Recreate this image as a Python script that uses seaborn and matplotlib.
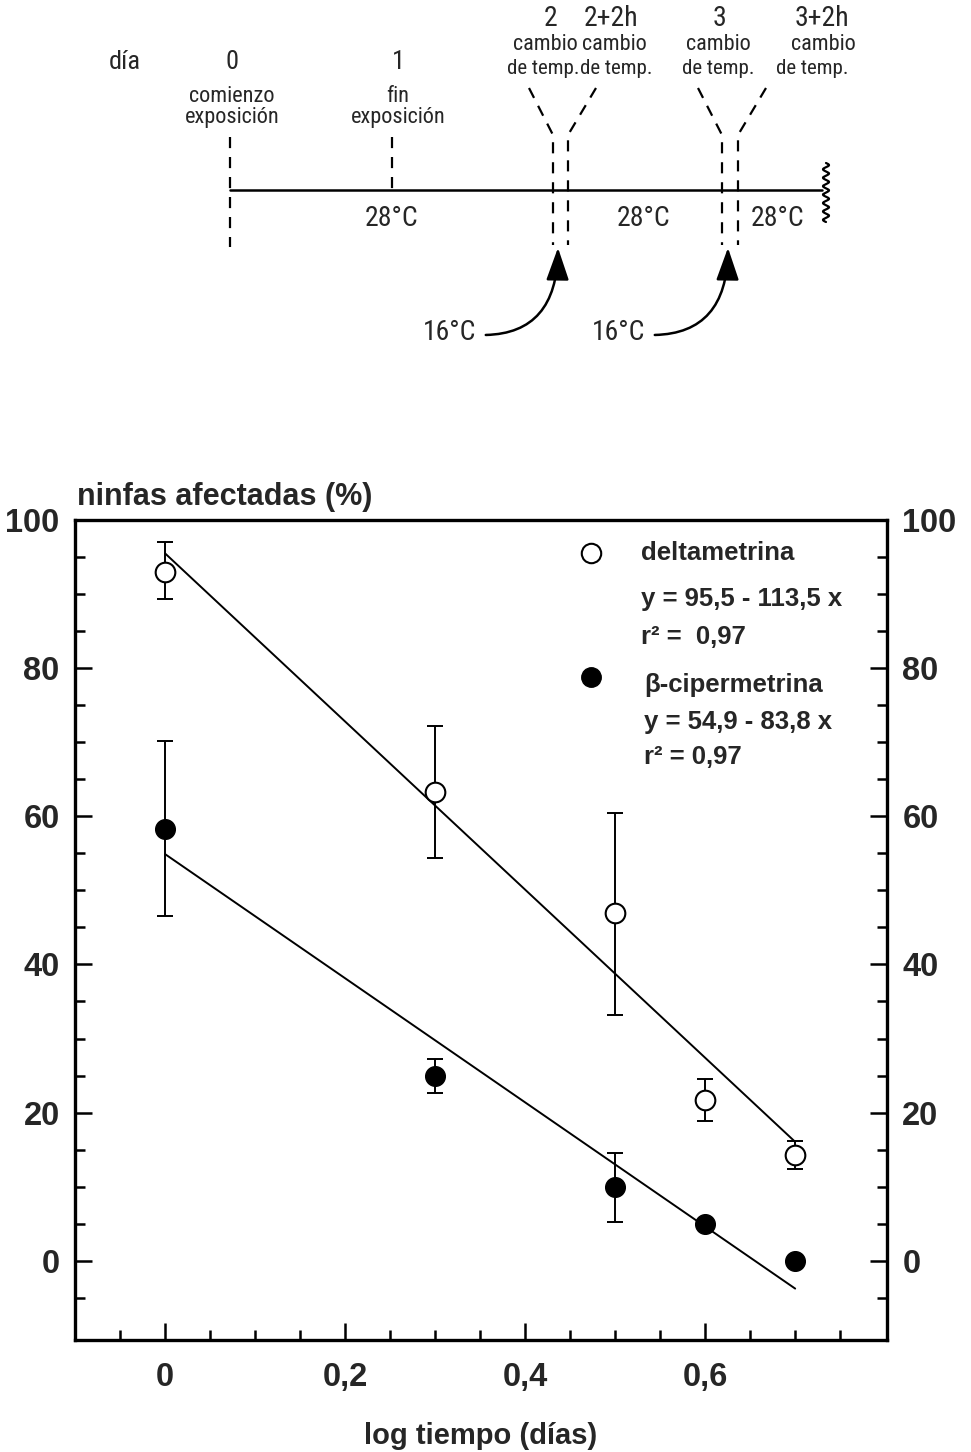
import numpy as np
import pandas as pd
import matplotlib
matplotlib.use("Agg")
import matplotlib.pyplot as plt
import seaborn as sns
from matplotlib.patches import FancyArrowPatch
from matplotlib import font_manager

sns.set_theme(style="white")
plt.rcParams['font.family'] = ['Liberation Sans', 'DejaVu Sans']

# ---------------- data ----------------
log_time = [0.0, 0.3, 0.5, 0.6, 0.7]

delta_mean = [93.0, 63.3, 46.9, 21.7, 14.3]
delta_low = [89.3, 54.4, 33.2, 18.8, 12.4]
delta_high = [97.0, 72.2, 60.4, 24.6, 16.1]

beta_mean = [58.3, 25.0, 10.0, 5.0, 0.0]
beta_low = [46.6, 22.6, 5.2, 5.0, 0.0]
beta_high = [70.2, 27.3, 14.6, 5.0, 0.0]

delta_fit = (95.5, -113.5)   # intercept, slope
beta_fit = (54.9, -83.8)
fit_range = [0.0, 0.7]

xtick_values = [0.0, 0.2, 0.4, 0.6]
xtick_labels = ['0', '0,2', '0,4', '0,6']
ytick_values = [0, 20, 40, 60, 80, 100]
ytick_labels = ['0', '20', '40', '60', '80', '100']

legend_lines_delta = ['deltametrina', 'y = 95,5 - 113,5 x', 'r² =  0,97']
legend_lines_beta = ['β-cipermetrina', 'y = 54,9 - 83,8 x', 'r² = 0,97']

# timeline diagram
day_labels = ['0', '1']
day_notes = [['comienzo', 'exposición'], ['fin', 'exposición']]
change_labels = ['2', '2+2h', '3', '3+2h']

# pick a condensed font if one is installed
narrow_name = None
for f in font_manager.fontManager.ttflist:
    nm = f.name
    if ('Narrow' in nm or 'Condensed' in nm) and f.style == 'normal':
        narrow_name = nm
        if 'Liberation' in nm or 'Arial' in nm:
            break
narrow = [narrow_name, 'Liberation Sans', 'DejaVu Sans'] if narrow_name else ['Liberation Sans', 'DejaVu Sans']
shrink = 1.0 if narrow_name else 0.85

W, H = 971, 1452
fig = plt.figure(figsize=(W / 100, H / 100), dpi=100)

# ---------------- main chart ----------------
L, R, T, B = 75, 887, 520, 1340
ax = fig.add_axes([L / W, 1 - B / H, (R - L) / W, (B - T) / H])

df = pd.DataFrame({
    'x': log_time * 2,
    'y': delta_mean + beta_mean,
    'serie': ['deltametrina'] * 5 + ['beta'] * 5,
})

lw = 1.4
xs = np.array(fit_range)
fit_df = pd.DataFrame({
    'x': list(xs) * 2,
    'y': list(delta_fit[0] + delta_fit[1] * xs) + list(beta_fit[0] + beta_fit[1] * xs),
    'serie': ['d', 'd', 'b', 'b'],
})
sns.lineplot(data=fit_df, x='x', y='y', units='serie', estimator=None,
             color='black', lw=lw, ax=ax, legend=False)

for mean, lo, hi in [(delta_mean, delta_low, delta_high), (beta_mean, beta_low, beta_high)]:
    m = np.array(mean)
    yerr = np.vstack([m - np.array(lo), np.array(hi) - m])
    keep = (yerr.sum(axis=0) > 0)
    ax.errorbar(np.array(log_time)[keep], m[keep], yerr=yerr[:, keep], fmt='none',
                ecolor='black', elinewidth=lw, capsize=6, capthick=lw, zorder=2)

sns.scatterplot(data=df[df.serie == 'deltametrina'], x='x', y='y', ax=ax,
                marker='o', s=200, facecolor='white', edgecolor='black',
                linewidth=1.5, zorder=5, legend=False)
sns.scatterplot(data=df[df.serie == 'beta'], x='x', y='y', ax=ax,
                marker='o', s=200, color='black', edgecolor='black',
                linewidth=1.0, zorder=5, legend=False)

ax.set_xlim(-0.1, 0.802)
ax.set_ylim(-10.7, 100)
ax.set_xticks(xtick_values)
ax.set_xticklabels(xtick_labels)
ax.set_xticks(np.arange(-0.05, 0.8, 0.05), minor=True)
ax.set_yticks(ytick_values)
ax.set_yticklabels(ytick_labels)
ax.set_yticks(np.arange(-5, 100, 5), minor=True)

for sp in ax.spines.values():
    sp.set_linewidth(2.4)
    sp.set_color('black')
    sp.set_visible(True)

ax.tick_params(axis='both', which='both', direction='in', color='black', width=1.8)
ax.tick_params(axis='y', which='both', left=True, right=True, labelleft=True, labelright=True)
ax.tick_params(axis='x', which='both', bottom=True, top=False)
ax.tick_params(which='major', length=12)
ax.tick_params(which='minor', length=7)
ax.tick_params(axis='y', which='major', pad=11, labelsize=23.5)
ax.tick_params(axis='x', which='major', pad=16, labelsize=23.5)
for t in ax.yaxis.get_major_ticks():
    t.label1.set_fontweight('bold')
    t.label2.set_fontweight('bold')
for t in ax.xaxis.get_major_ticks():
    t.label1.set_fontweight('bold')

ax.set_xlabel('log tiempo (días)', fontsize=21, fontweight='bold', labelpad=21)
ax.set_ylabel('')
ax.text(0.002, 1.010, 'ninfas afectadas (%)', transform=ax.transAxes,
        fontsize=22, fontweight='bold', ha='left', va='bottom')
ax.grid(False)

# legend (manual)
mk_x = 0.6355
txt_x = 0.697
ax.plot([mk_x], [0.9598], transform=ax.transAxes, marker='o', ms=14,
        mfc='white', mec='black', mew=1.5, ls='none', clip_on=False)
ax.plot([mk_x], [0.8085], transform=ax.transAxes, marker='o', ms=14,
        mfc='black', mec='black', ls='none', clip_on=False)
ys_d = [0.960, 0.904, 0.857]
ys_b = [0.799, 0.754, 0.711]
for s, yy in zip(legend_lines_delta, ys_d):
    ax.text(txt_x, yy, s, transform=ax.transAxes, fontsize=18.5, fontweight='bold',
            ha='left', va='center')
for s, yy in zip(legend_lines_beta, ys_b):
    ax.text(txt_x + 0.004, yy, s, transform=ax.transAxes, fontsize=18.5, fontweight='bold',
            ha='left', va='center')

# ---------------- timeline diagram ----------------
axd = fig.add_axes([0, 0, 1, 1], facecolor='none')
axd.set_xlim(0, W)
axd.set_ylim(H, 0)
axd.axis('off')

line_y = 190
axd.plot([230, 822], [line_y, line_y], color='black', lw=1.8)
wy = np.linspace(163, 222, 300)
axd.plot(826 + 3 * np.sin((wy - 163) / 59 * 2 * np.pi * 7), wy, color='black', lw=1.6)

dash = dict(color='black', lw=1.6, ls=(0, (5, 4)))
axd.plot([230, 230], [137, 247], **dash)
axd.plot([392, 392], [137, 190], **dash)
for xl, xr in [(553, 568), (722, 738)]:
    axd.plot([xl - 24, xl, xl], [88, 135, 245], **dash)
    axd.plot([xr + 28, xr, xr], [88, 135, 245], **dash)

tfs = 15.0 * shrink
axd.text(125, 62, 'día', fontsize=19 * shrink, family=narrow, ha='center', va='center')
for lab, xx in zip(day_labels, [232, 398]):
    axd.text(xx, 62, lab, fontsize=19 * shrink, family=narrow, ha='center', va='center')
for notes, xx in zip(day_notes, [232, 398]):
    axd.text(xx, 96, notes[0], fontsize=16 * shrink, family=narrow, ha='center', va='center')
    axd.text(xx, 118, notes[1], fontsize=16 * shrink, family=narrow, ha='center', va='center')
for lab, xx in zip(change_labels, [551, 611, 720, 822]):
    axd.text(xx, 19, lab, fontsize=20 * shrink, family=narrow, ha='center', va='center')
for xx in [545, 614, 718, 823]:
    axd.text(xx, 45, 'cambio', fontsize=16 * shrink, family=narrow, ha='center', va='center')
for xx in [543, 616, 718, 812]:
    axd.text(xx, 68, 'de temp.', fontsize=tfs, family=narrow, ha='center', va='center')
for xx in [392, 644, 778]:
    axd.text(xx, 218, '28°C', fontsize=20 * shrink, family=narrow, ha='center', va='center')
for xx, tip in [(450, 558), (619, 728)]:
    axd.text(xx, 332, '16°C', fontsize=20 * shrink, family=narrow, ha='center', va='center')
    arr = FancyArrowPatch((xx + 33, 335), (tip, 245),
                          connectionstyle='angle3,angleA=0,angleB=90',
                          arrowstyle='-|>,head_length=10,head_width=3.5',
                          color='black', lw=1.8, mutation_scale=2)
    axd.add_patch(arr)

fig.savefig('out.png', dpi=100)
